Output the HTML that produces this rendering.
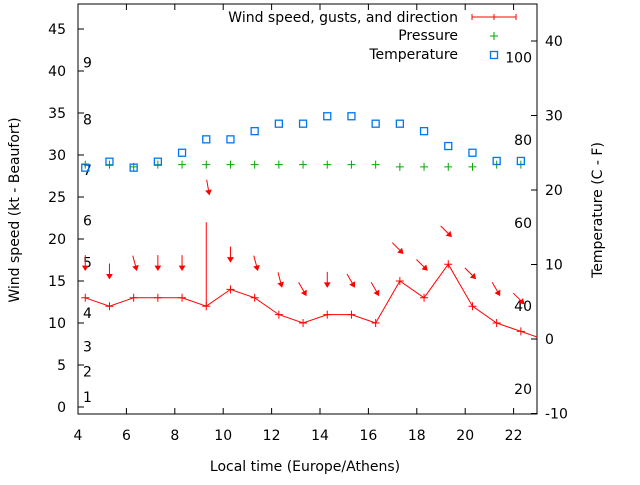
<!DOCTYPE html>
<html><head><meta charset="utf-8"><style>
body{margin:0;background:#fff;}
svg{font-family:"DejaVu Sans","Liberation Sans",sans-serif;font-size:14px;}
</style></head><body>
<svg id="chart" width="640" height="480" xmlns="http://www.w3.org/2000/svg"></svg>
<script>
const hours=[4.3,5.3,6.3,7.3,8.3,9.3,10.3,11.3,12.3,13.3,14.3,15.3,16.3,17.3,18.3,19.3,20.3,21.3,22.3,23.3];
const windSpeed=[13,12,13,13,13,12,14,13,11,10,11,11,10,15,13,17,12,10,9,8];
const windGust=[0,0,0,0,0,22,0,0,0,0,0,0,0,0,0,0,0,0,0,0];
const windDir=[0,0,345,0,0,350,0,345,345,330,0,330,330,315,315,315,315,330,315];
const pressure=[23.4,23.4,23.1,23.4,23.4,23.4,23.4,23.4,23.4,23.4,23.4,23.4,23.4,23.1,23.1,23.1,23.1,23.4,23.4];
const temperature=[23,23.8,23,23.8,25,26.8,26.8,27.9,28.9,28.9,29.9,29.9,28.9,28.9,27.9,25.9,25,23.9,23.9];
const xTicks=[4,6,8,10,12,14,16,18,20,22];
const yTicks=[0,5,10,15,20,25,30,35,40,45];
const y2Ticks=[-10,0,10,20,30,40];
const beaufortLabels=["1","2","3","4","5","6","7","8","9"];
const beaufortKt=[1.2,4.2,7.2,11.2,17.2,22.2,28.2,34.2,41];
const fahrenheitLabels=["20","40","60","80","100"];
const fahrenheitC=[-6.7,4.4,15.6,26.7,37.8];

const L=78,R=537,T=4,B=414;
const x=h=>L+(h-4)*24.2;
const y=v=>407-v*8.4;
const y2=v=>339-v*7.45;
const svg=document.getElementById('chart');
const NS='http://www.w3.org/2000/svg';
function mk(tag,attrs,parent){const e=document.createElementNS(NS,tag);for(const k in attrs)e.setAttribute(k,attrs[k]);(parent||svg).appendChild(e);return e;}
function txt(s,attrs){const e=mk('text',attrs);e.textContent=s;return e;}

const clip=mk('clipPath',{id:'pc'});mk('rect',{x:L,y:T,width:R-L,height:B-T},clip);

const frame=mk('rect',{x:L,y:T,width:R-L,height:B-T,fill:'none',stroke:'#000','stroke-width':1});



xTicks.forEach(t=>{
  mk('line',{x1:x(t),x2:x(t),y1:B,y2:B-6,stroke:'#000'});
  mk('line',{x1:x(t),x2:x(t),y1:T,y2:T+6,stroke:'#000'});
  const e=txt(String(t),{x:x(t),y:B+26,'text-anchor':'middle'});
  
  
});
yTicks.forEach(t=>{
  mk('line',{x1:L,x2:L+6,y1:y(t),y2:y(t),stroke:'#000'});
  const e=txt(String(t),{x:66,y:y(t)+5,'text-anchor':'end'});
  
  
});
y2Ticks.forEach(t=>{
  mk('line',{x1:R,x2:R-6,y1:y2(t),y2:y2(t),stroke:'#000'});
  const e=txt(String(t),{x:545,y:y2(t)+5,'text-anchor':'start'});
  
  
});
beaufortLabels.forEach((s,i)=>{
  const e=txt(s,{x:83,y:y(beaufortKt[i])+5});
  
  
});
fahrenheitLabels.forEach((s,i)=>{
  const e=txt(s,{x:532,y:y2(fahrenheitC[i])+5,'text-anchor':'end'});
  
  
});

let a=txt('Wind speed (kt - Beaufort)',{x:0,y:0,transform:'translate(19,210) rotate(-90)','text-anchor':'middle'});

a=txt('Temperature (C - F)',{x:0,y:0,transform:'translate(602,210) rotate(-90)','text-anchor':'middle'});

a=txt('Local time (Europe/Athens)',{x:305,y:471,'text-anchor':'middle'});


const g=mk('g',{'clip-path':'url(#pc)'});
const pts=hours.map((h,i)=>x(h)+','+y(windSpeed[i])).join(' ');
const wl=mk('polyline',{points:pts,fill:'none',stroke:'#f00','stroke-width':1},g);


hours.forEach((h,i)=>{
  const px=x(h),py=y(windSpeed[i]);
  mk('path',{d:`M${px-4},${py}H${px+4}M${px},${py-4}V${py+4}`,stroke:'#f00'},g);
  if(windGust[i]>0){
    const gl=mk('line',{x1:px,x2:px,y1:py,y2:y(windGust[i]),stroke:'#f00'},g);
    
    
  }
});
windDir.forEach((d,i)=>{
  const top=Math.max(windSpeed[i],windGust[i]);
  const tx=x(hours[i])+(d===0?0:3), ty=y(top+3.3);
  const dx=-Math.sin(d*Math.PI/180), dy=Math.cos(d*Math.PI/180);
  const len=15;
  const sx=tx-dx*len, sy=ty-dy*len;
  const hx=dx*4,hy=dy*4,nx=-dy*2.5,ny=dx*2.5;
  const ar=mk('path',{d:`M${sx},${sy}L${tx},${ty}M${tx-hx+nx},${ty-hy+ny}L${tx},${ty}L${tx-hx-nx},${ty-hy-ny}Z`,stroke:'#f00',fill:'#f00','stroke-width':1},g);
  
  
});
pressure.forEach((p,i)=>{
  const px=x(hours[i]),py=y2(p);
  const e=mk('path',{d:`M${px-4},${py}H${px+4}M${px},${py-4}V${py+4}`,stroke:'#0a0','stroke-width':1},g);
  
  
});
temperature.forEach((t,i)=>{
  const e=mk('rect',{x:x(hours[i])-3.5,y:y2(t)-3.5,width:7,height:7,fill:'none',stroke:'#07e','stroke-width':1.3},g);
  
  
});

const lg=mk('g',{});


txt('Wind speed, gusts, and direction',{x:458,y:22,'text-anchor':'end'});
mk('path',{d:'M472,17H516M472,14V20M516,14V20M494,14V20',stroke:'#f00'},lg);
txt('Pressure',{x:458,y:40,'text-anchor':'end'});
mk('path',{d:'M490,36H498M494,32V40',stroke:'#0a0'},lg);
txt('Temperature',{x:458,y:59,'text-anchor':'end'});
mk('rect',{x:490.5,y:51.5,width:7,height:7,fill:'none',stroke:'#07e','stroke-width':1.3},lg);
</script>
</body></html>
